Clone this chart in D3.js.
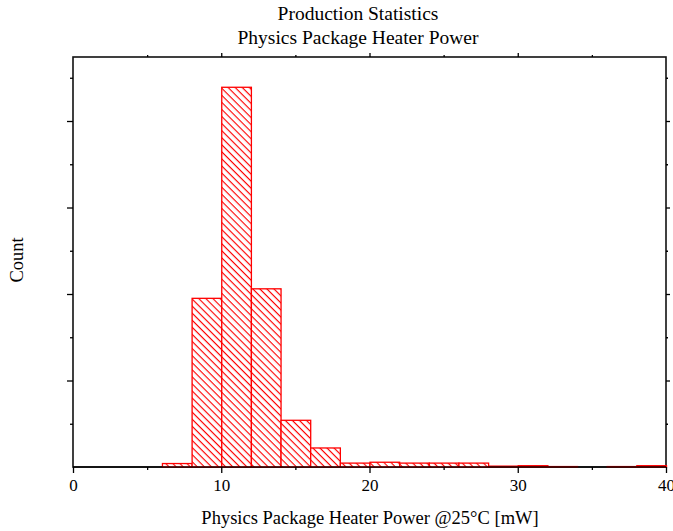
<!DOCTYPE html>
<html>
<head>
<meta charset="utf-8">
<script src="https://cdn.jsdelivr.net/npm/d3@7"></script>
<style>
  html, body { margin: 0; padding: 0; background: #fff; }
  svg { display: block; }
  text { font-family: "Liberation Serif", "DejaVu Serif", serif; fill: #000; }
</style>
</head>
<body>
<svg id="chart" width="673" height="531"></svg>
<script>
// Histogram data: bin edges (mW) and counts
const binStarts = [6, 8, 10, 12, 14, 16, 18, 20, 22, 24, 26, 28, 30, 32, 34, 36, 38];
const binWidth = 2;
const counts = [4, 195, 439, 206, 54, 22, 4.5, 5.5, 4.5, 4.5, 4.5, 1, 1.5, 0.5, 0, 0.5, 1.5];
const xMajorTicks = [0, 10, 20, 30, 40];
const xMinorTicks = [5, 15, 25, 35];
const yMajorTicks = [0, 100, 200, 300, 400];
const yMinorTicks = [50, 150, 250, 350, 450];
const titleLines = ["Production Statistics", "Physics Package Heater Power"];
const xLabel = "Physics Package Heater Power @25°C [mW]";
const yLabel = "Count";

const svg = d3.select("#chart");
const m = { left: 73, right: 666, top: 57, bottom: 467 };

const x = d3.scaleLinear().domain([0, 40]).range([m.left, m.right]);
const y = d3.scaleLinear().domain([0, 474]).range([m.bottom, m.top]);

// hatch pattern
const defs = svg.append("defs");
const pat = defs.append("pattern")
  .attr("id", "hatch")
  .attr("patternUnits", "userSpaceOnUse")
  .attr("width", 5).attr("height", 5)
  .attr("patternTransform", "rotate(45)");
pat.append("rect").attr("width", 5).attr("height", 5).attr("fill", "#fff");
pat.append("line").attr("x1", 0).attr("y1", 0.5).attr("x2", 5).attr("y2", 0.5)
  .attr("stroke", "#ff0000").attr("stroke-width", 1.3);

// frame
svg.append("rect")
  .attr("x", m.left).attr("y", m.top)
  .attr("width", m.right - m.left).attr("height", m.bottom - m.top)
  .attr("fill", "none").attr("stroke", "#111").attr("stroke-width", 1.6);

// bars
const bins = binStarts.map((s, i) => ({ x0: s, x1: s + binWidth, c: counts[i] }));
svg.append("g").selectAll("rect").data(bins.filter(d => d.c > 0)).join("rect")
  .attr("x", d => x(d.x0) + 0.5)
  .attr("y", d => y(d.c))
  .attr("width", d => x(d.x1) - x(d.x0))
  .attr("height", d => y(0) - y(d.c))
  .attr("fill", "url(#hatch)")
  .attr("stroke", "#ff0000")
  .attr("stroke-width", 1.3);

// bottom axis line redraw
svg.append("line").attr("x1", m.left).attr("x2", m.right)
  .attr("y1", m.bottom).attr("y2", m.bottom)
  .attr("stroke", "#000").attr("stroke-width", 1.5).attr("stroke-opacity", 0.9);

// axes with d3 axis generators
const xAxisMajor = d3.axisBottom(x).tickValues(xMajorTicks).tickSize(6).tickFormat(d3.format("d"));
const gx = svg.append("g").attr("transform", `translate(0,${m.bottom})`).call(xAxisMajor);
gx.select(".domain").remove();
gx.selectAll("text").attr("font-size", 17).attr("dy", "0.71em").attr("y", 12)
  .attr("font-family", "Liberation Serif");
const gxm = svg.append("g").attr("transform", `translate(0,${m.bottom})`)
  .call(d3.axisBottom(x).tickValues(xMinorTicks).tickSize(3).tickFormat(""));
gxm.select(".domain").remove();
const gxt = svg.append("g").attr("transform", `translate(0,${m.top})`)
  .call(d3.axisTop(x).tickValues(xMajorTicks.slice(1, -1)).tickSize(4).tickFormat(""));
gxt.select(".domain").remove();
const gxtm = svg.append("g").attr("transform", `translate(0,${m.top})`)
  .call(d3.axisTop(x).tickValues(xMinorTicks).tickSize(2).tickFormat(""));
gxtm.select(".domain").remove();

const gy = svg.append("g").attr("transform", `translate(${m.left},0)`)
  .call(d3.axisLeft(y).tickValues(yMajorTicks.slice(1)).tickSize(6).tickFormat(""));
gy.select(".domain").remove();
const gym = svg.append("g").attr("transform", `translate(${m.left},0)`)
  .call(d3.axisLeft(y).tickValues(yMinorTicks).tickSize(3).tickFormat(""));
gym.select(".domain").remove();
const gyr = svg.append("g").attr("transform", `translate(${m.right},0)`)
  .call(d3.axisRight(y).tickValues(yMajorTicks.slice(1)).tickSize(4).tickFormat(""));
gyr.select(".domain").remove();
const gyrm = svg.append("g").attr("transform", `translate(${m.right},0)`)
  .call(d3.axisRight(y).tickValues(yMinorTicks).tickSize(2).tickFormat(""));
gyrm.select(".domain").remove();
svg.selectAll(".tick line").attr("stroke", "#000").attr("stroke-width", 1.3);

// titles
svg.append("g").selectAll("text").data(titleLines).join("text")
  .attr("x", 358)
  .attr("y", (d, i) => 20 + i * 24)
  .attr("text-anchor", "middle")
  .attr("font-size", 19.5)
  .text(d => d);

svg.append("text")
  .attr("x", 370)
  .attr("y", 524)
  .attr("text-anchor", "middle")
  .attr("font-size", 18.5)
  .text(xLabel);

svg.append("text")
  .attr("transform", `translate(23,260) rotate(-90)`)
  .attr("text-anchor", "middle")
  .attr("font-size", 18.5)
  .text(yLabel);
</script>
</body>
</html>
